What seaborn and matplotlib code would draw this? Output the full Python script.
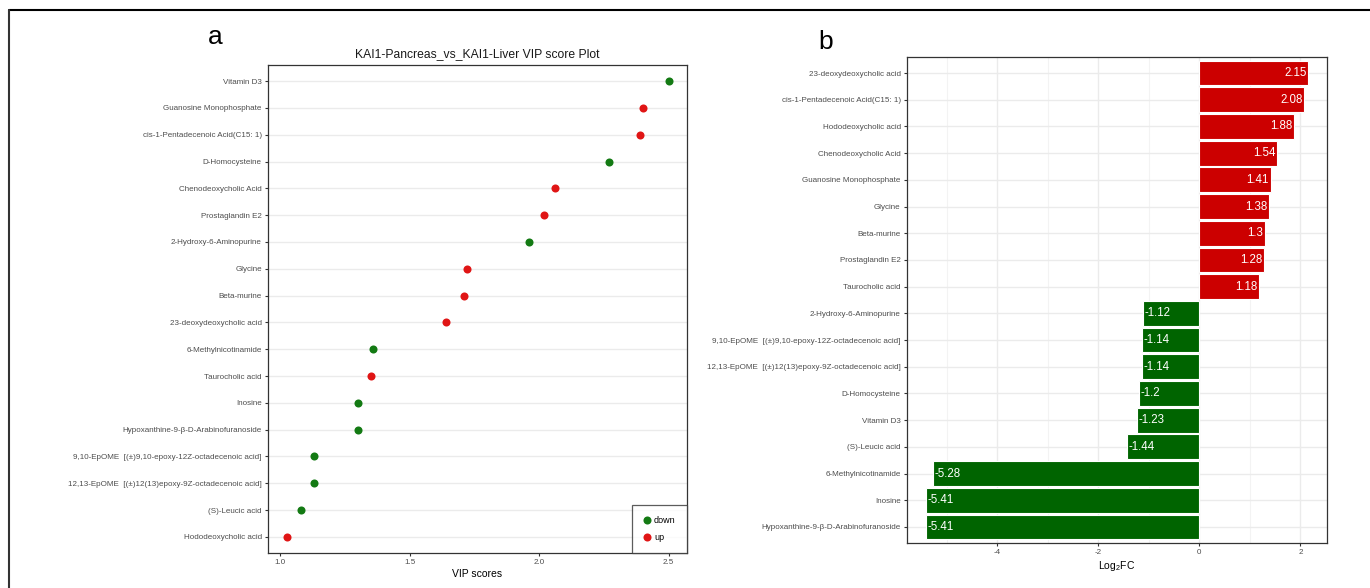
import matplotlib
matplotlib.use("Agg")
import matplotlib.pyplot as plt
import seaborn as sns
import pandas as pd
from matplotlib.ticker import MultipleLocator
from matplotlib.lines import Line2D

# ---- Panel a data (VIP scores) ----
vip_names = [
    "Vitamin D3", "Guanosine Monophosphate", "cis-1-Pentadecenoic Acid(C15: 1)",
    "D-Homocysteine", "Chenodeoxycholic Acid", "Prostaglandin E2",
    "2-Hydroxy-6-Aminopurine", "Glycine", "Beta-murine", "23-deoxydeoxycholic acid",
    "6-Methylnicotinamide", "Taurocholic acid", "Inosine",
    "Hypoxanthine-9-β-D-Arabinofuranoside",
    "9,10-EpOME  [(±)9,10-epoxy-12Z-octadecenoic acid]",
    "12,13-EpOME  [(±)12(13)epoxy-9Z-octadecenoic acid]",
    "(S)-Leucic acid", "Hododeoxycholic acid",
]
vip_scores = [2.50, 2.40, 2.39, 2.27, 2.06, 2.02, 1.96, 1.72, 1.71, 1.64,
              1.36, 1.35, 1.30, 1.30, 1.13, 1.13, 1.08, 1.025]
vip_dir = ["down", "up", "up", "down", "up", "up", "down", "up", "up", "up",
           "down", "up", "down", "down", "down", "down", "down", "up"]

# ---- Panel b data (Log2FC) ----
fc_names = [
    "23-deoxydeoxycholic acid", "cis-1-Pentadecenoic Acid(C15: 1)",
    "Hododeoxycholic acid", "Chenodeoxycholic Acid", "Guanosine Monophosphate",
    "Glycine", "Beta-murine", "Prostaglandin E2", "Taurocholic acid",
    "2-Hydroxy-6-Aminopurine",
    "9,10-EpOME  [(±)9,10-epoxy-12Z-octadecenoic acid]",
    "12,13-EpOME  [(±)12(13)epoxy-9Z-octadecenoic acid]",
    "D-Homocysteine", "Vitamin D3", "(S)-Leucic acid", "6-Methylnicotinamide",
    "Inosine", "Hypoxanthine-9-β-D-Arabinofuranoside",
]
fc_values = [2.15, 2.08, 1.88, 1.54, 1.41, 1.38, 1.3, 1.28, 1.18,
             -1.12, -1.14, -1.14, -1.2, -1.23, -1.44, -5.28, -5.41, -5.41]
fc_labels = ["2.15", "2.08", "1.88", "1.54", "1.41", "1.38", "1.3", "1.28", "1.18",
             "-1.12", "-1.14", "-1.14", "-1.2", "-1.23", "-1.44", "-5.28", "-5.41", "-5.41"]
fc_dir = ["up" if v > 0 else "down" for v in fc_values]

sns.set_theme(style="white")
plt.rcParams["font.family"] = ["Liberation Sans", "DejaVu Sans"]
plt.rcParams["mathtext.default"] = "regular"
plt.rcParams["axes.unicode_minus"] = False

TXT = "#4D4D4D"
GRID = "#EBEBEB"
SPINE = "#333333"

fig = plt.figure(figsize=(13.7, 5.88), dpi=100)

# outer frame (top and left lines)
fig.add_artist(Line2D([8.5 / 1370, 1.0], [1 - 10 / 588, 1 - 10 / 588],
                      transform=fig.transFigure, color="black", lw=1.5))
fig.add_artist(Line2D([8.5 / 1370, 8.5 / 1370], [0, 1 - 10 / 588],
                      transform=fig.transFigure, color="#333333", lw=1.5))

# ---------------- Panel a ----------------
axa = fig.add_axes([268 / 1370, 35 / 588, 419 / 1370, 488 / 588])
dfa = pd.DataFrame({"name": vip_names, "VIP": vip_scores, "dir": vip_dir})
pal_pts = {"down": "#137A13", "up": "#E01515"}
sns.stripplot(data=dfa, x="VIP", y="name", hue="dir", order=vip_names,
              hue_order=["down", "up"], palette=pal_pts, jitter=False,
              size=5.8, linewidth=0, orient="h", ax=axa, zorder=3)
axa.set_xlim(0.953, 2.571)
axa.set_ylim(len(vip_names) - 0.4, -0.6)
axa.set_xticks([1.0, 1.5, 2.0, 2.5])
axa.set_xticklabels(["1.0", "1.5", "2.0", "2.5"])
axa.grid(axis="y", color=GRID, lw=1.0)
axa.grid(axis="x", visible=False)
axa.set_axisbelow(True)
axa.set_ylabel("")
axa.set_xlabel("VIP scores", fontsize=7.5, color="black", labelpad=2)
axa.set_title("KAI1-Pancreas_vs_KAI1-Liver VIP score Plot", fontsize=8.7,
              color="#1a1a1a", pad=6)
axa.tick_params(axis="both", labelsize=5.8, colors=TXT, length=2.5, width=0.8,
                pad=2, left=True, bottom=True, color="#333333")
for s in axa.spines.values():
    s.set_color(SPINE)
    s.set_linewidth(0.9)
leg = axa.legend(loc="lower right", bbox_to_anchor=(1.0, 0.0), frameon=True,
                 fontsize=6.5, markerscale=1.0, handletextpad=0.4,
                 borderpad=1.25, labelspacing=0.85, handlelength=0.8,
                 borderaxespad=0.0, fancybox=False)
leg.get_frame().set_edgecolor("#333333")
leg.get_frame().set_linewidth(0.9)
for t in leg.get_texts():
    t.set_color("black")

# ---------------- Panel b ----------------
axb = fig.add_axes([907 / 1370, 45 / 588, 420 / 1370, 486 / 588])
dfb = pd.DataFrame({"name": fc_names, "FC": fc_values, "dir": fc_dir})
pal_bars = {"down": "#006400", "up": "#CC0000"}
sns.barplot(data=dfb, x="FC", y="name", hue="dir", order=fc_names,
            hue_order=["down", "up"], palette=pal_bars, dodge=False,
            orient="h", width=0.93, edgecolor="white", linewidth=0.8,
            legend=False, ax=axb, zorder=3, saturation=1)
for i, (v, lab) in enumerate(zip(fc_values, fc_labels)):
    if v > 0:
        axb.text(v - 0.03, i, lab, ha="right", va="center", color="white",
                 fontsize=8.3, zorder=4)
    else:
        axb.text(v + 0.03, i, lab, ha="left", va="center", color="white",
                 fontsize=8.3, zorder=4)
axb.set_xlim(-5.788, 2.528)
axb.set_ylim(len(fc_names) - 0.4, -0.6)
axb.xaxis.set_major_locator(MultipleLocator(2))
axb.xaxis.set_minor_locator(MultipleLocator(1))
axb.grid(axis="x", which="major", color=GRID, lw=1.0)
axb.grid(axis="x", which="minor", color="#F3F3F3", lw=0.8)
axb.grid(axis="y", which="major", color=GRID, lw=1.0)
axb.set_axisbelow(True)
axb.set_ylabel("")
axb.set_xlabel("Log$_2$FC", fontsize=7.5, color="black", labelpad=2)
axb.tick_params(axis="both", which="major", labelsize=5.8, colors=TXT,
                length=2.5, width=0.8, pad=2, left=True, bottom=True,
                color="#333333")
axb.tick_params(axis="x", which="minor", length=0)
for s in axb.spines.values():
    s.set_color(SPINE)
    s.set_linewidth(0.9)

# panel letters
fig.text(215 / 1370, 1 - 37 / 588, "a", fontsize=19, ha="center", va="center",
         color="black")
fig.text(826 / 1370, 1 - 42 / 588, "b", fontsize=19, ha="center", va="center",
         color="black")

fig.savefig("out.png", dpi=100)
